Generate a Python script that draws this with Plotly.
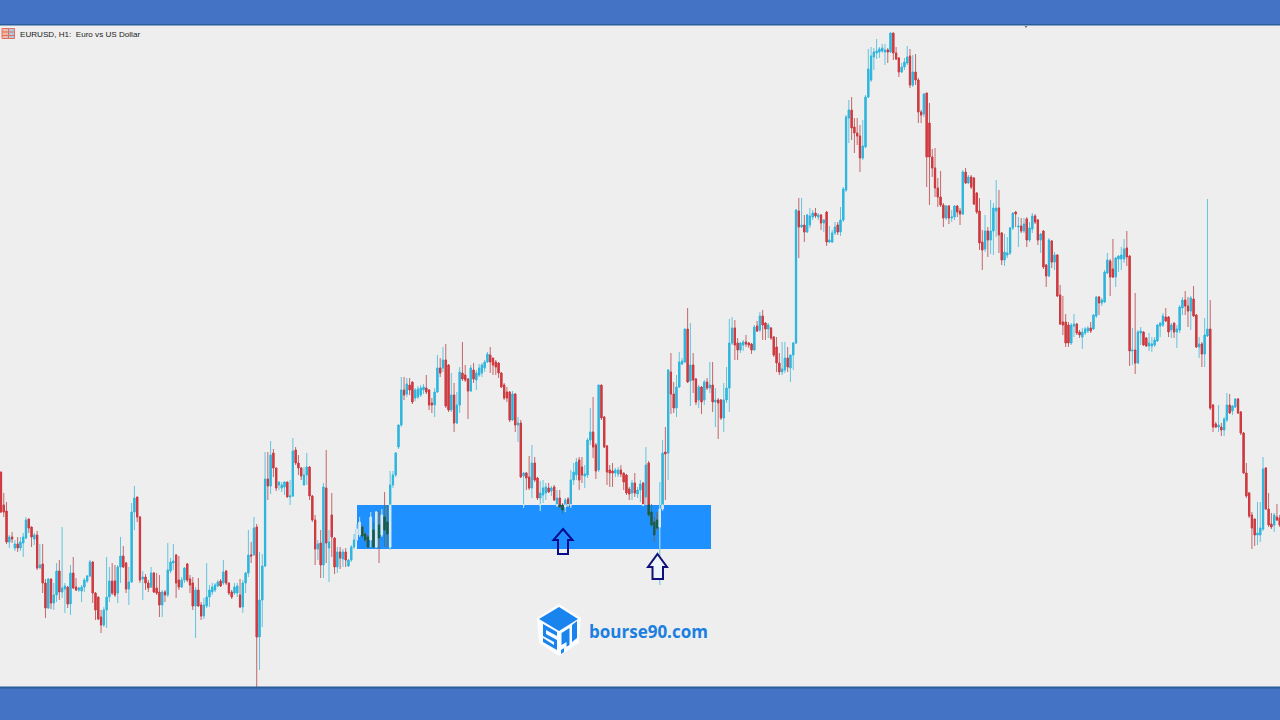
import plotly.graph_objects as go

# Values, in chart points above the lower edge of the price pane.
opens = [
215,182,176,145,150,139,143,139,144,149,168,160,148,152,119,123,104,79,108,84,
92,116,95,98,100,83,114,100,97,96,100,106,111,125,94,90,70,62,77,90,
106,106,94,120,131,124,98,105,175,190,170,108,110,104,100,114,99,95,82,95,
92,116,124,132,107,100,107,123,108,104,81,97,82,71,81,90,95,97,101,106,
104,116,104,95,94,94,92,80,104,114,132,132,160,50,87,121,208,201,234,219,
202,199,200,205,190,191,237,224,219,202,212,220,191,167,138,
144,122,199,139,172,149,120,135,128,135,121,127,140,147,152,160,153,150,147,157,
140,162,152,170,165,140,202,212,240,262,297,293,302,305,289,290,292,297,299,297,
284,282,295,319,319,327,322,277,292,264,282,314,312,308,296,317,307,312,314,319,
325,332,329,325,324,314,302,295,295,267,293,262,264,211,214,210,199,224,209,189,
192,194,199,196,200,182,189,182,180,188,182,207,212,227,220,211,212,247,255,242,
217,302,270,241,217,216,214,213,217,214,212,198,194,204,193,197,
204,190,224,175,165,167,160,178,235,234,
315,293,279,300,323,325,358,306,322,308,287,300,287,305,299,302,285,287,287,269,
287,299,344,359,344,337,342,345,344,343,337,361,357,371,364,358,359,350,340,324,
315,317,329,319,332,344,476,460,462,455,462,470,474,470,472,464,475,445,445,454,
462,455,
467,497,569,577,560,554,551,529,540,590,607,630,634,635,636,635,637,635,654,634,
629,615,620,624,631,602,615,607,575,573,594,564,530,519,499,490,482,469,481,469,
470,481,476,473,515,504,510,509,494,476,445,438,456,447,456,476,479,454,427,432,
434,459,475,460,461,456,468,447,458,471,467,447,
456,422,411,446,425,432,392,365,365,362,344,361,363,355,350,354,356,359,358,371,
390,384,385,414,426,418,410,428,428,428,439,431,336,337,324,354,355,349,341,341,
342,346,361,362,370,370,357,364,355,357,379,387,381,376,388,372,340,343,333,351,
358,282,263,260,260,257,267,282,276,280,288,275,254,214,194,172,168,152,152,158,
219,178,163,162,170,169]

closes = [
175,175,145,150,148,143,139,145,150,167,159,150,152,119,122,104,79,108,84,92,
116,95,99,101,83,114,99,97,99,100,107,111,125,94,77,68,62,77,90,106,
94,92,120,131,120,98,105,175,189,170,107,110,104,99,114,95,94,82,95,92,
117,125,126,104,100,107,119,107,102,81,97,81,71,82,90,97,100,102,105,101,
115,104,94,90,100,101,80,104,114,132,131,159,50,87,121,208,201,232,219,199,
205,202,205,190,191,236,224,219,211,212,220,191,167,138,143,
122,200,144,145,150,120,135,129,135,127,127,140,147,158,165,151,147,140,170,140,
175,149,172,157,153,202,212,234,262,297,292,303,297,285,297,298,299,300,295,282,
282,295,319,314,327,281,277,292,264,282,315,308,307,296,319,308,314,319,322,325,
333,325,322,320,314,300,289,289,267,293,262,264,210,214,209,199,224,207,189,194,
199,200,195,199,187,189,180,177,187,182,207,215,225,207,212,213,247,255,240,216,
302,269,240,215,214,214,217,217,213,205,194,193,204,194,197,203,
182,222,172,162,152,159,178,234,233,317,
293,279,300,325,326,358,305,322,307,285,300,285,305,299,302,285,287,284,269,287,
299,344,359,342,337,344,345,343,342,337,360,356,371,362,358,362,349,332,324,315,
318,329,320,332,344,477,460,462,455,472,471,474,471,472,464,467,445,447,454,460,
455,467,
498,570,577,559,554,551,529,541,590,618,631,635,636,638,639,637,635,654,634,628,
615,620,625,630,602,615,607,575,572,593,530,530,519,499,490,482,469,481,469,470,
481,475,473,515,504,510,500,483,475,444,437,456,447,456,479,479,452,427,435,434,
459,474,473,461,456,463,447,459,471,465,447,453,
420,411,447,425,432,391,363,362,344,344,362,363,354,352,355,358,359,356,372,390,
384,387,415,427,410,410,429,431,432,438,430,336,337,324,355,356,342,341,344,343,
347,362,364,371,366,355,362,355,358,380,387,381,376,389,371,340,343,333,352,358,
279,260,260,262,257,268,282,274,281,288,274,254,214,191,171,159,152,154,159,218,
178,162,160,172,167,162]

highs = [
215,194,185,152,155,147,150,150,154,170,168,160,154,156,143,143,108,109,108,104,
124,127,160,104,101,122,130,109,100,102,109,112,127,126,95,90,77,80,130,120,
124,122,122,150,141,125,120,184,201,190,171,116,113,107,120,115,114,112,97,97,
144,129,143,133,131,110,120,124,112,110,100,109,85,89,124,102,104,104,107,108,
127,117,104,97,104,104,108,107,115,157,145,170,163,135,133,235,235,246,238,219,
205,205,205,205,207,249,240,232,220,220,234,221,192,172,147,
157,204,237,157,194,150,140,140,138,139,128,142,153,163,170,162,155,152,175,165,
176,176,178,195,182,216,216,235,262,310,310,309,309,305,299,301,302,303,312,298,
289,299,332,329,340,343,323,314,304,295,320,345,322,309,322,324,317,323,324,327,
335,340,329,327,325,315,304,300,296,296,294,270,267,215,215,231,242,230,210,206,
207,204,204,201,202,197,197,184,189,190,217,224,229,230,230,222,249,279,290,244,
302,302,271,242,222,224,219,220,222,214,213,200,207,214,200,207,
205,240,226,183,170,175,205,247,260,318,
334,305,312,335,329,358,379,364,334,309,302,301,307,309,325,325,299,289,288,304,
320,368,370,367,349,345,347,352,345,344,362,366,375,377,365,364,360,351,350,334,
345,345,340,332,345,478,489,489,472,473,479,477,479,474,473,468,476,461,457,465,
465,480,
500,572,587,590,569,569,562,567,592,638,640,639,648,640,643,643,639,654,654,640,
630,624,629,641,638,632,633,609,577,594,594,584,538,539,509,516,484,482,482,477,
482,482,479,517,519,512,512,510,495,489,457,472,460,487,484,507,497,455,453,450,
460,474,476,470,469,469,470,465,474,473,468,454,
457,423,449,447,435,433,402,391,373,365,364,373,364,357,359,360,361,365,373,391,
391,389,417,434,428,448,430,432,440,448,456,432,359,394,357,360,356,350,354,350,
350,363,365,374,379,371,364,364,362,382,390,396,390,391,401,373,350,345,369,488,
387,283,265,282,264,270,294,293,282,289,289,276,255,224,195,175,168,185,185,230,
220,194,174,174,183,172]

lows = [
174,170,143,139,144,136,135,136,130,148,154,140,142,117,119,94,69,78,78,77,
85,87,89,74,79,72,98,96,95,85,95,104,110,84,67,67,54,60,59,85,
92,90,84,104,119,94,82,104,157,165,104,87,97,95,99,94,92,70,70,85,
90,114,117,89,97,99,104,105,94,77,49,80,67,68,79,80,92,95,100,100,
102,102,92,88,92,90,79,74,94,110,124,132,0,17,60,120,187,193,210,196,
197,195,192,190,182,190,222,212,207,202,202,187,165,122,127,
109,109,124,105,130,113,114,118,120,120,120,125,138,146,150,149,145,139,140,139,
139,124,150,140,140,137,199,210,238,260,287,290,292,283,286,288,290,293,293,277,
274,270,294,310,315,279,275,275,255,263,274,306,305,268,295,304,297,310,310,315,
324,314,312,312,309,299,287,285,265,266,255,245,209,179,197,197,189,205,187,176,
184,187,194,191,186,180,179,173,175,180,179,202,207,197,204,199,209,242,229,208,
215,267,239,202,200,200,210,210,210,197,192,187,187,190,189,185,
181,182,170,160,145,157,102,176,187,207,
273,274,270,299,322,324,304,281,294,282,279,273,282,297,294,275,260,248,267,255,
284,275,342,327,327,334,336,340,339,333,336,355,355,347,347,349,347,330,315,312,
312,314,315,305,317,343,429,459,445,454,459,467,469,467,457,455,441,444,444,452,
452,451,
465,495,544,547,534,542,515,527,539,589,605,617,628,629,634,622,624,634,627,627,
610,614,617,622,599,600,602,564,564,570,500,482,510,490,480,480,460,467,463,465,
467,470,462,472,503,503,498,482,473,437,417,435,430,433,432,450,434,422,421,429,
432,457,460,440,454,454,440,445,454,463,442,434,
418,400,410,419,417,390,362,352,340,340,342,350,352,349,338,352,354,354,357,369,
372,381,384,413,391,409,400,415,417,424,421,321,322,313,323,342,341,340,336,335,
340,345,350,360,365,350,349,349,339,354,372,372,360,357,370,339,329,320,320,350,
277,255,259,255,251,251,265,273,272,279,273,252,213,189,169,138,141,142,145,156,
177,160,158,155,166,160]

BAR_UP, BAR_DOWN = "#2fb6de", "#d0393f"
WICK_UP, WICK_DOWN = "#62c4de", "#c4666a"
ZONE_UP, ZONE_DOWN = "#dce9f2", "#0f6050"
ZONE_LOW, ZONE_HIGH = 138, 182
ZONE_FIRST, ZONE_LAST = 128, 256
W, H = 1280, 720


def px(x):
    return x / W


def py(y):
    return 1 - y / H


def candle(x, o, h, l, c, up, down):
    return go.Candlestick(
        x=x, open=o, high=h, low=l, close=c,
        increasing=dict(line=dict(color=up, width=1), fillcolor=up),
        decreasing=dict(line=dict(color=down, width=1), fillcolor=down),
        whiskerwidth=0, hoverinfo="skip", showlegend=False,
    )


n = len(opens)
idx = list(range(n))
tops = [max(a, b) for a, b in zip(opens, closes)]
bots = [min(a, b) for a, b in zip(opens, closes)]

fig = go.Figure()
fig.add_trace(candle(idx, opens, highs, lows, closes, WICK_UP, WICK_DOWN))
fig.add_trace(candle(idx, opens, tops, bots, closes, BAR_UP, BAR_DOWN))

# The part of each candle inside the zone reads in inverted colours.
def clip(v):
    return min(max(v, ZONE_LOW), ZONE_HIGH)


inside = [i for i in idx if ZONE_FIRST <= i <= ZONE_LAST and lows[i] < ZONE_HIGH and highs[i] > ZONE_LOW]
zx = inside
zo = [clip(opens[i]) for i in inside]
zc = [clip(closes[i]) for i in inside]
zh = [clip(highs[i]) for i in inside]
zl = [clip(lows[i]) for i in inside]
fig.add_trace(candle(zx, zo, zh, zl, zc, "#a8d4f4", "#2e7f92"))
fig.add_trace(candle(zx, zo, [max(a, b) for a, b in zip(zo, zc)], [min(a, b) for a, b in zip(zo, zc)], zc, ZONE_UP, ZONE_DOWN))

shapes = []


def rect(x0, y0, x1, y1, fill, line=None, lw=0, layer="above"):
    shapes.append(dict(type="rect", xref="paper", yref="paper", x0=px(x0), x1=px(x1), y0=py(y0), y1=py(y1),
                       fillcolor=fill, line=dict(color=line or fill, width=lw), layer=layer))


def poly(points, fill=None, line=None, lw=0, close=True):
    d = "M" + " L".join(f"{px(a):.5f},{py(b):.5f}" for a, b in points) + (" Z" if close else "")
    shapes.append(dict(type="path", xref="paper", yref="paper", path=d, fillcolor=fill or "rgba(0,0,0,0)",
                       line=dict(color=line or "rgba(0,0,0,0)", width=lw), layer="above"))


# Frame bands' darker inner edges
rect(0, 24, W, 25.5, "#2a5d9c")
rect(0, 686.5, W, 688.5, "#2a5d9c")

# Support zone (under the candles)
shapes.append(dict(type="rect", xref="paper", yref="y", x0=px(357), x1=px(711), y0=ZONE_LOW, y1=ZONE_HIGH,
                   fillcolor="#1e90ff", line=dict(width=0), layer="below"))

# Arrows
poly([(563, 529), (572.5, 540), (568, 540), (568, 554), (558, 554), (558, 540), (553.5, 540)], None, "#0a0a8c", 2)
poly([(657.5, 554), (667, 567), (663, 567), (663, 579), (652.5, 579), (652.5, 567), (648, 567)], "#eef4f8", "#10107a", 2)

# Window icon
rect(2, 28.5, 8.5, 38.5, "#f2b8a8", "#e0705c", 1)
rect(8.5, 28.5, 14.5, 38.5, "#a9cbe8", "#e0705c", 1)
poly([(2, 32), (14.5, 32)], None, "#e0705c", 1, close=False)
poly([(2, 35.5), (14.5, 35.5)], None, "#e0705c", 1, close=False)

# Tiny mark under the top band
poly([(1024.5, 26), (1027.5, 26), (1026, 28)], "#667788")

# Logo
LOGO = "#1a84ee"
poly([(559, 604), (581, 618), (579, 643), (559, 656), (539, 643), (537, 618)], "#fafcff")
poly([(559, 607), (578, 619), (559, 631), (539, 619)], LOGO)
poly([(543, 624), (557, 632), (557, 636), (546, 630), (546, 634), (557, 640), (557, 650), (543, 642),
      (543, 638), (554, 645), (554, 642), (543, 636)], LOGO)
poly([(561.5, 633), (569.5, 628), (569.5, 645), (564, 648), (564, 652), (561, 654), (561, 650), (566.5, 646.5),
      (566.5, 642), (561.5, 645)], LOGO)
poly([(572, 625), (577, 621), (577, 638), (572, 642)], LOGO)

annotations = [
    dict(text="EURUSD, H1:\u00a0\u00a0Euro vs US Dollar", xref="paper", yref="paper", x=px(17.5), y=py(34),
         xanchor="left", yanchor="middle", showarrow=False,
         font=dict(family="Liberation Sans", size=8.1, color="#222222")),
    dict(text="<b>bourse90.com</b>", xref="paper", yref="paper", x=px(587), y=py(631),
         xanchor="left", yanchor="middle", showarrow=False,
         font=dict(family="Open Sans", size=17, color="#1a7fe0")),
]

fig.update_layout(
    width=W, height=H, margin=dict(l=0, r=0, t=0, b=0),
    paper_bgcolor="#4472c4", plot_bgcolor="#eeeeee",
    showlegend=False, shapes=shapes, annotations=annotations, boxgap=0.38,
    xaxis=dict(range=[-0.35, n - 0.9], visible=False, rangeslider=dict(visible=False), fixedrange=True),
    yaxis=dict(range=[0, 662], domain=[33 / H, 695 / H], visible=False, fixedrange=True),
)

fig.write_html("out.html", config=dict(displayModeBar=False),
               post_script="document.body.style.margin='0';document.body.style.overflow='hidden';")
